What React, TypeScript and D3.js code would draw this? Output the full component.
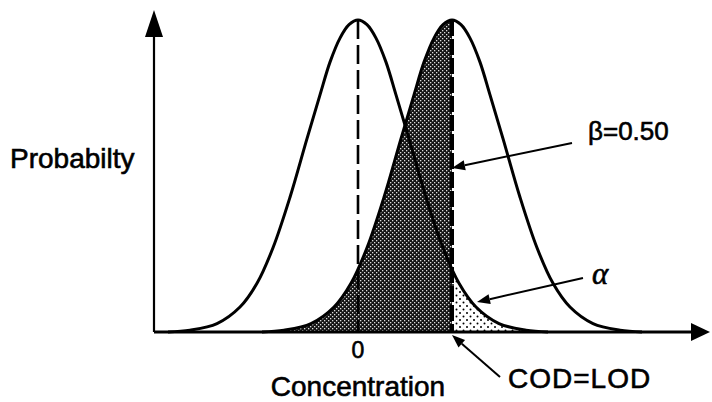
import React from 'react';
import * as d3 from 'd3';

const W = 712;
const H = 402;

// shape of both curves: distance from centre (sd) and relative height
const shapeOffsets = [0, 0.18, 0.36, 0.56, 0.76, 1.02, 1.36, 1.7, 2.02, 2.36, 2.82, 3.36, 3.8];
const shapeHeights = [1, 0.985, 0.942, 0.865, 0.76, 0.62, 0.432, 0.27, 0.156, 0.08, 0.027, 0.006, 0];

const curveNames = ['blank', 'sample'];
const LOD = 1.88;
const curveMeans = [0, LOD];

const xDomain = [-4.08, 7.04];
const yDomain = [0, 1];
const xTickValues = [0];
const xTickLabels = ['0'];

const xAxisLabel = 'Concentration';
const yAxisLabel = 'Probabilty';

// annotations in data units: [x, relative height]
const noteTexts = ['β=0.50', 'α', 'COD=LOD'];
const noteTails = [[4.28, 0.606], [4.5, 0.173], [2.84, -0.144]];
const noteTips = [[LOD, 0.526], [2.38, 0.096], [LOD, -0.01]];
const noteAnchors = [[4.6, 0.615], [4.68, 0.154], [3.0, -0.18]];

const sans = '"Liberation Sans", Arial, Helvetica, sans-serif';
const serif = '"Liberation Serif", "Times New Roman", serif';

function arrowHead(tx: number, ty: number, fx: number, fy: number, len: number, half: number) {
  const a = Math.atan2(ty - fy, tx - fx);
  const bx = tx - len * Math.cos(a);
  const by = ty - len * Math.sin(a);
  const px = -Math.sin(a);
  const py = Math.cos(a);
  return {
    base: [bx, by],
    d: `M${tx},${ty}L${bx + half * px},${by + half * py}L${bx - half * px},${by - half * py}Z`,
  };
}

export default function App() {
  const x = d3.scaleLinear().domain(xDomain).range([154, 710]);
  const y = d3.scaleLinear().domain(yDomain).range([332, 20]);

  const curves = curveMeans.map((m, i) => {
    const left = shapeOffsets.slice(1).reverse().map((o, j) => ({
      x: m - o,
      h: shapeHeights[shapeHeights.length - 1 - j],
    }));
    const right = shapeOffsets.map((o, j) => ({ x: m + o, h: shapeHeights[j] }));
    return { name: curveNames[i], mean: m, pts: [...left, ...right] };
  });

  const line = d3.line<{ x: number; h: number }>()
    .x(d => x(d.x))
    .y(d => y(d.h))
    .curve(d3.curveCatmullRom.alpha(0.5));
  const area = d3.area<{ x: number; h: number }>()
    .x(d => x(d.x))
    .y0(y(0))
    .y1(d => y(d.h))
    .curve(d3.curveCatmullRom.alpha(0.5));

  const x0 = x.range()[0];
  const x1 = x.range()[1];
  const yBase = y(0);
  const yTop = y(1) - 10;
  const xArrow = arrowHead(x1, yBase, x0, yBase, 19, 9);
  const yArrow = arrowHead(x0, yTop, x0, yBase, 27, 9);

  const textStyle = { stroke: '#000', strokeWidth: 0.6 };

  return (
    <svg width={W} height={H} style={{ position: 'fixed', left: 0, top: 0, background: '#fff' }}>
      <defs>
        <pattern id="dense" width="4" height="4" patternUnits="userSpaceOnUse">
          <rect width="4" height="4" fill="#141414" />
          <rect x="0" y="0" width="1.3" height="1.3" fill="#dcdcdc" />
          <rect x="2" y="2" width="1.3" height="1.3" fill="#dcdcdc" />
        </pattern>
        <pattern id="sparse" width="7" height="7" patternUnits="userSpaceOnUse">
          <rect width="7" height="7" fill="#fff" />
          <circle cx="1.5" cy="1.5" r="1" fill="#000" />
          <circle cx="5" cy="5" r="1" fill="#000" />
        </pattern>
        <clipPath id="leftOfLod">
          <rect x={0} y={0} width={x(LOD)} height={H} />
        </clipPath>
        <clipPath id="rightOfLod">
          <rect x={x(LOD)} y={0} width={W - x(LOD)} height={H} />
        </clipPath>
      </defs>

      {/* beta region under the sample curve, alpha region under the blank curve */}
      <path d={area(curves[1].pts) || ''} fill="url(#dense)" clipPath="url(#leftOfLod)" />
      <path d={area(curves[0].pts) || ''} fill="url(#sparse)" clipPath="url(#rightOfLod)" />

      {curves.map(c => (
        <path key={c.name} d={line(c.pts) || ''} fill="none" stroke="#000" strokeWidth={3} />
      ))}

      <line x1={x(curveMeans[0])} x2={x(curveMeans[0])} y1={y(1)} y2={yBase}
        stroke="#000" strokeWidth={2.6} strokeDasharray="19 6" />
      <line x1={x(LOD)} x2={x(LOD)} y1={y(1)} y2={yBase}
        stroke="#000" strokeWidth={4} strokeDasharray="16 3" />

      {/* axes */}
      <line x1={x0} x2={xArrow.base[0]} y1={yBase} y2={yBase} stroke="#000" strokeWidth={2.8} />
      <path d={xArrow.d} fill="#000" />
      <line x1={x0} x2={x0} y1={yBase} y2={yArrow.base[1]} stroke="#000" strokeWidth={2.2} />
      <path d={yArrow.d} fill="#000" />

      {xTickValues.map((v, i) => (
        <text key={v} x={x(v)} y={358} textAnchor="middle" fontFamily={sans}
          style={{ ...textStyle, fontSize: '23px' }}>
          {xTickLabels[i]}
        </text>
      ))}
      <text x={x(0)} y={396} textAnchor="middle" fontFamily={sans} fontSize={28} style={textStyle}>
        {xAxisLabel}
      </text>
      <text x={10} y={y(0.525)} fontFamily={sans} fontSize={28} style={textStyle}>{yAxisLabel}</text>

      {noteTexts.map((t, i) => {
        const tx = x(noteTips[i][0]);
        const ty = y(noteTips[i][1]);
        const fx = x(noteTails[i][0]);
        const fy = y(noteTails[i][1]);
        const head = arrowHead(tx, ty, fx, fy, 13, 5);
        const isAlpha = t === 'α';
        return (
          <g key={t}>
            <line x1={fx} y1={fy} x2={head.base[0]} y2={head.base[1]} stroke="#000" strokeWidth={2} />
            <path d={head.d} fill="#000" />
            <text
              x={x(noteAnchors[i][0])}
              y={y(noteAnchors[i][1])}
              fontFamily={isAlpha ? serif : sans}
              fontStyle={isAlpha ? 'italic' : 'normal'}
              fontSize={isAlpha ? 31 : t === 'COD=LOD' ? 28 : 26}
              letterSpacing={t === 'COD=LOD' ? 1 : 0}
              style={textStyle}
            >
              {t}
            </text>
          </g>
        );
      })}
    </svg>
  );
}
